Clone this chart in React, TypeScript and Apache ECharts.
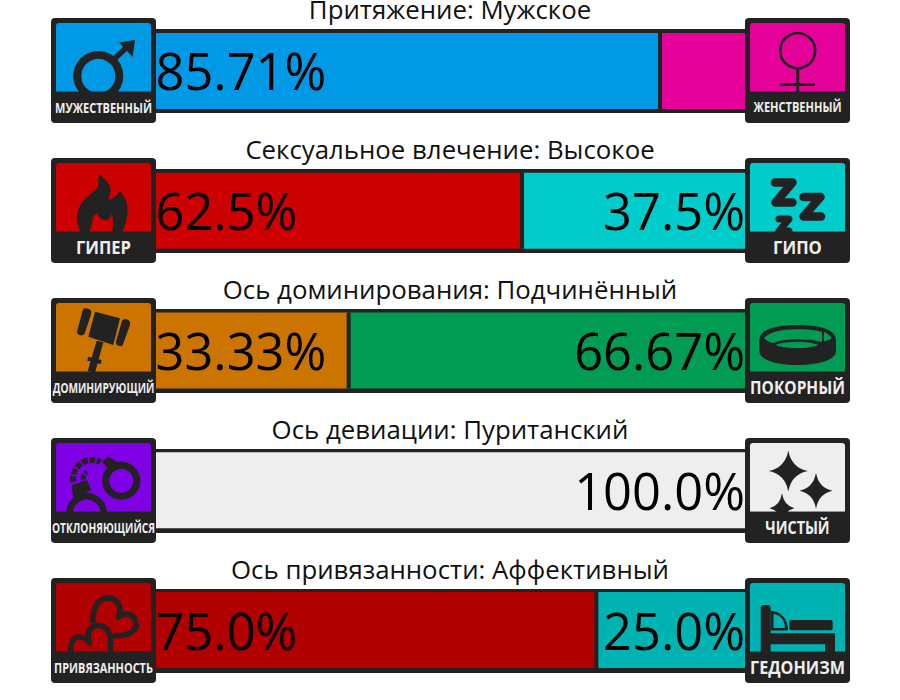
import React, { useEffect, useRef } from "react";
import * as echarts from "echarts";

const titles = [
  "Притяжение: Мужское",
  "Сексуальное влечение: Высокое",
  "Ось доминирования: Подчинённый",
  "Ось девиации: Пуританский",
  "Ось привязанности: Аффективный",
];
const categories = ["attraction", "drive", "dominance", "deviation", "attachment"];
const leftValues = [85.71, 62.5, 33.33, 0, 75.0];
const rightValues = [14.29, 37.5, 66.67, 100.0, 25.0];
const leftColors = ["#0099e6", "#cc0000", "#cc7400", "#8000e6", "#b00000"];
const rightColors = ["#e6009a", "#00cccc", "#009c54", "#eeeeee", "#00b3b3"];
const leftNames = ["МУЖЕСТВЕННЫЙ", "ГИПЕР", "ДОМИНИРУЮЩИЙ", "ОТКЛОНЯЮЩИЙСЯ", "ПРИВЯЗАННОСТЬ"];
const rightNames = ["ЖЕНСТВЕННЫЙ", "ГИПО", "ПОКОРНЫЙ", "ЧИСТЫЙ", "ГЕДОНИЗМ"];
const leftNameSize = [14, 17.5, 14, 14, 14];
const rightNameSize = [14, 17.5, 17.5, 17.5, 18];
const leftNameScale = [0.786, 0.95, 0.724, 0.725, 0.78];
const rightNameScale = [0.789, 0.953, 0.886, 0.818, 0.9];

const DARK = "#222222";
const FONT = '"Open Sans", "Noto Sans", sans-serif';

const star = (cx: number, cy: number, rx: number, ry: number) => {
  const a = 0.16 * rx;
  const b = 0.16 * ry;
  return (
    `M${cx} ${cy - ry} Q${cx + a} ${cy - b} ${cx + rx} ${cy} ` +
    `Q${cx + a} ${cy + b} ${cx} ${cy + ry} ` +
    `Q${cx - a} ${cy + b} ${cx - rx} ${cy} ` +
    `Q${cx - a} ${cy - b} ${cx} ${cy - ry} Z`
  );
};

const iconPaths: Record<string, string> = {
  flame:
    "M48.3 16 C57 23 62 30 59 36 C58.5 38 58 40 57.3 42 L61.7 40.3 C65 38 68 35 69 32.7 C73 38 76.3 43 76.5 50 C77 58 75 66 70.7 75 L30 75 C26 66 25 60 26.7 55 C28 49 30 45 33 42 C40 35 48 30 47.3 27 C47 23 47.5 19 48.3 16 Z " +
    "M38 75 L61.3 75 C62 68 62.5 61 60.7 55.3 C60 59 58 62 55 62 C52 62 50 61 49 60 C48 58 47 56 45.7 55.3 C44 56.5 42.5 58 41.8 60 C41 64 41 68 38 75 Z",
  gavel:
    "M44 13.7 L69 20.3 L62.3 47 L37.3 38.7 Z " +
    "M33.5 10.3 Q37 10 39.5 12 Q41 14 40 16.5 L33.5 36 Q31 38.5 27.5 36.5 Q25.5 35 26.2 33 L31.5 13 Q32 11 33.5 10.3 Z " +
    "M73.5 21 Q77 21 78.5 23 Q79.5 25 79 27 L71.5 47.5 Q69 49 66 47 Q64.5 45.5 65 43.5 L71 23 Q72 21.5 73.5 21 Z " +
    "M45.7 42.7 L52.3 44.3 L44 75 L36.7 73 Z M37.3 58.7 L50.7 62 L49.7 66 L36.3 62.7 Z",
  band:
    "M14.3 42 C14.3 31 32 27 52.7 27 C73 27 91 31 91 42 L91 53 C91 62 73 67 52.7 67 C32 67 14.3 62 14.3 53 Z " +
    "M19 40.3 C22 43 25 44.5 28.5 45 C36 42 44 41.3 52 41.3 C62 41.3 70 42 77 44 L77 33.8 C70 32 60 31.3 52 31.3 C36 31.3 23 34.5 19 40.3 Z " +
    "M79 34 L79 43.5 Q84 43 86.7 40.3 Q84.5 36.5 79 34 Z " +
    "M30 47 C36 49.5 44 50 52 50 C60 50 68 49.5 73.5 47 C68 44.7 60 43.7 52 43.7 C44 43.7 36 44.7 30 47 Z",
  spark1: star(43.3, 33, 19.5, 20.5),
  spark2: star(71, 52.7, 16.5, 18),
  spark3: star(37, 70.3, 12.5, 15),
  heart2: "M20.5 75 C18 64 23 59 28 59 C32 59 36 61 38.5 65 C35 55 38 49 46 47.5 C54 46.5 60 54 59.5 62 L59.5 75",
  heart3: "M42 45 C41 30 47 20.5 57 20 C67 20 72 30 67.5 39 C73 35 82 34 85 44 C87 53 77 58 62 58",
  pillow: "M25.7 33 C35 33 43 40 43 52.5 L25.7 52.5 Z M28.5 36 L28.5 50 L40 50 C40 43 36 37 28.5 36 Z",
};

function App() {
  const ref = useRef<HTMLDivElement>(null);
  useEffect(() => {
    document.body.style.margin = "0";
    const regPath = (name: string, d: string) =>
      echarts.graphic.registerShape(name, (echarts.graphic as any).extendPath(d, {}));
    for (const k of Object.keys(iconPaths)) regPath("ic_" + k, iconPaths[k]);
    const chart = echarts.init(ref.current!, null, { renderer: "svg" });

    const rowTop = (i: number) => 18 + 140 * i;
    const graphics: any[] = [];
    const box = (x: number, y: number, fill: string, name: string, size: number, scale: number, icons: any[]) => {
      graphics.push({ type: "rect", z: 10, shape: { x, y, width: 105, height: 105, r: 4 }, style: { fill: DARK } });
      graphics.push({ type: "rect", z: 11, shape: { x: x + 5, y: y + 5, width: 95, height: 68.7, r: [3, 3, 0, 0] }, style: { fill } });
      graphics.push({ type: "group", x, y, z: 12, children: icons });
      graphics.push({ type: "rect", z: 13, shape: { x: x + 5, y: y + 73.7, width: 95, height: 12 }, style: { fill: DARK } });
      graphics.push({
        type: "text",
        z: 14,
        x: x + 52.5,
        y: y + 89.5,
        scaleX: scale,
        style: {
          text: name,
          fill: "#eeeeee",
          font: `bold ${size}px ${FONT}`,
          textAlign: "center",
          textVerticalAlign: "middle",
        },
      });
    };
    const dk = { fill: DARK };
    const ring = (cx: number, cy: number, r: number, w: number) => ({
      type: "circle",
      z: 12,
      shape: { cx, cy, r },
      style: { fill: "none", stroke: DARK, lineWidth: w },
    });
    const shape = (n: string) => ({ type: "ic_" + n, z: 12, style: dk });
    const outline = (n: string, w: number) => ({
      type: "ic_" + n,
      z: 12,
      style: { fill: "none", stroke: DARK, lineWidth: w, lineJoin: "round" },
    });
    const ln = (x1: number, y1: number, x2: number, y2: number, w: number) => ({
      type: "line",
      z: 12,
      shape: { x1, y1, x2, y2 },
      style: { stroke: DARK, lineWidth: w },
    });
    const zee = (points: number[][], w: number) => ({
      type: "polyline",
      z: 12,
      shape: { points },
      style: { fill: "none", stroke: DARK, lineWidth: w, lineJoin: "round", lineCap: "round" },
    });
    const bar = (x: number, y: number, width: number, height: number, r: any = 0) => ({
      type: "rect",
      z: 12,
      shape: { x, y, width, height, r },
      style: dk,
    });
    const leftIcons: any[][] = [
      [
        ring(47.3, 58, 21, 8),
        ln(60, 44, 76, 29, 5.5),
        { type: "polygon", z: 12, shape: { points: [[68, 24.5], [84, 22], [81.7, 39]] }, style: dk },
      ],
      [shape("flame")],
      [shape("gavel")],
      [
        ring(70.3, 42.8, 15.5, 7),
        ring(35.7, 75.3, 17, 6.5),
        { type: "arc", z: 12, shape: { cx: 41, cy: 41, r: 19, startAngle: Math.PI * 0.95, endAngle: Math.PI * 1.65, clockwise: true }, style: { fill: "none", stroke: DARK, lineWidth: 6, lineDash: [6, 1.5] } },
        { type: "arc", z: 12, shape: { cx: 41, cy: 41, r: 9, startAngle: Math.PI * 0.75, endAngle: Math.PI * 1.3, clockwise: true }, style: { fill: "none", stroke: DARK, lineWidth: 5, lineDash: [5, 1.5] } },
        { type: "polygon", z: 12, shape: { points: [[50.7, 23.7], [57.3, 18.7], [69, 25.3], [60.7, 33.7]] }, style: dk },
        { type: "polygon", z: 12, shape: { points: [[20.7, 47], [35.7, 42], [40.7, 52], [22.3, 60.3]] }, style: dk },
      ],
      [outline("heart3", 5.5), outline("heart2", 5.5)],
    ];
    const rightIcons: any[][] = [
      [ring(52.7, 32.7, 17.5, 2.6), ln(52.7, 51, 52.7, 75, 3), ln(35, 66.5, 70, 66.5, 3)],
      [
        zee([[30, 24.5], [47.5, 24.5], [30.5, 44.5], [47.5, 44.5]], 8.5),
        zee([[58.5, 39], [75.5, 39], [58.5, 58.5], [76, 58.5]], 8.5),
        zee([[34, 61], [44, 61], [34, 73], [44, 73]], 7),
      ],
      [shape("band")],
      [shape("spark1"), shape("spark2"), shape("spark3")],
      [
        bar(15.7, 27, 10, 47, [3, 3, 0, 0]),
        bar(25, 55.3, 65, 11),
        bar(80, 60, 10, 14),
        bar(44.3, 42, 43.4, 10.3, 2),
        shape("pillow"),
      ],
    ];
    for (let i = 0; i < 5; i++) {
      graphics.push({ type: "rect", z: 1, shape: { x: 156, y: rowTop(i) + 11, width: 589, height: 84 }, style: { fill: DARK } });
      box(51, rowTop(i), leftColors[i], leftNames[i], leftNameSize[i], leftNameScale[i], leftIcons[i]);
      box(745, rowTop(i), rightColors[i], rightNames[i], rightNameSize[i], rightNameScale[i], rightIcons[i]);
    }

    const pct = (v: number) => `${v}${Number.isInteger(v) ? ".0" : ""}%`;
    const splits = leftValues
      .map((v, i) => [v, i])
      .filter(([v]) => v > 0 && v < 100);
    chart.setOption({
      animation: false,
      title: titles.map((t, i) => ({
        text: t,
        left: 450,
        top: 140 * i,
        padding: 0,
        textAlign: "center",
        textStyle: { fontFamily: FONT, fontSize: 25.8, lineHeight: 17, fontWeight: "normal", color: "#111111" },
      })),
      grid: { left: 150.5, width: 594.5, top: 1, height: 700 },
      xAxis: { type: "value", min: 0, max: 100, show: false },
      yAxis: { type: "category", data: categories, inverse: true, show: false },
      series: [
        {
          type: "bar",
          stack: "a",
          barWidth: 76,
          data: leftValues.map((v, i) => ({ value: v, itemStyle: { color: leftColors[i] } })),
          label: {
            show: true,
            position: "insideLeft",
            distance: 5,
            formatter: (p: any) => (p.value > 0 ? pct(p.value) : ""),
            fontFamily: FONT,
            fontSize: 50.6,
            color: "#000000",
          },
        },
        {
          type: "bar",
          stack: "a",
          barWidth: 76,
          data: rightValues.map((v, i) => ({ value: v, itemStyle: { color: rightColors[i] } })),
          label: {
            show: true,
            position: "insideRight",
            distance: 0,
            formatter: (p: any) => (p.value >= 20 ? pct(p.value) : ""),
            fontFamily: FONT,
            fontSize: 50.6,
            color: "#000000",
          },
        },
        {
          type: "custom",
          z: 3,
          encode: { x: 0, y: 1 },
          data: splits,
          renderItem: (_p: any, api: any) => {
            const c = api.coord([api.value(0), api.value(1)]);
            return { type: "rect", shape: { x: c[0] - 2, y: c[1] - 38, width: 4, height: 76 }, style: { fill: DARK } };
          },
        },
      ],
      graphic: graphics,
    });
    return () => chart.dispose();
  }, []);
  return <div ref={ref} style={{ width: 900, height: 700 }} />;
}

export default App;
